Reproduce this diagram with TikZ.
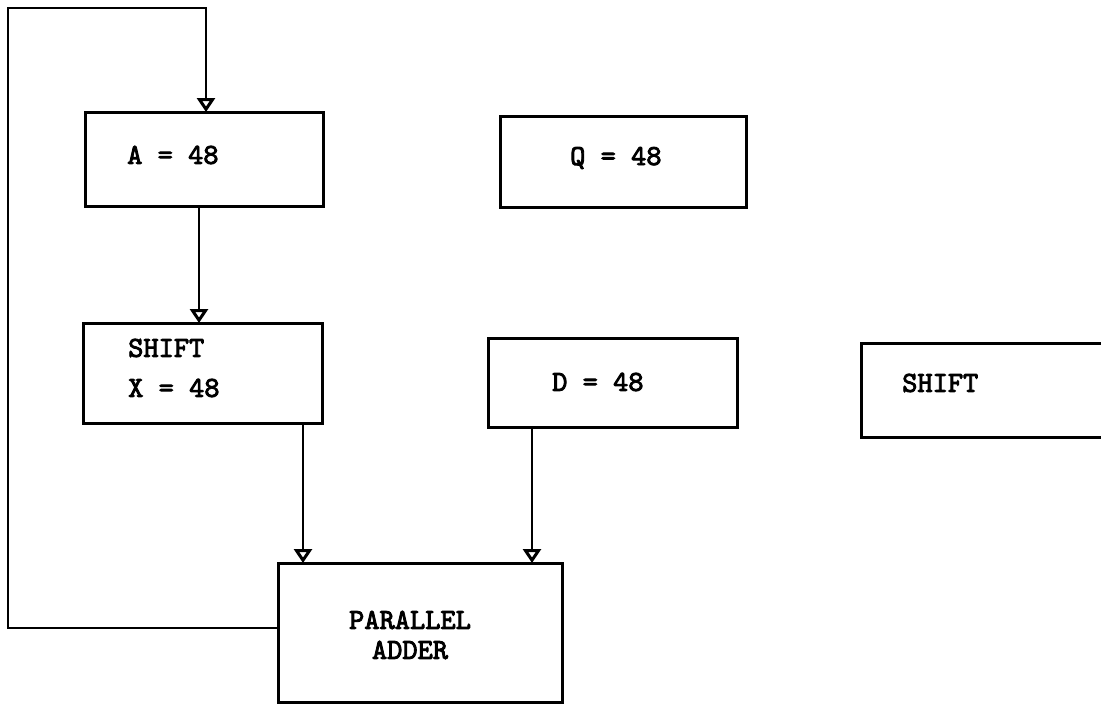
\documentclass[tikz,border=0pt]{standalone}
\usepackage{fontspec}
\newfontfamily\twfont{lmmono10-regular.otf}[FakeBold=3]
\usetikzlibrary{arrows.meta}
\begin{document}
\begin{tikzpicture}[x=1pt,y=-1pt,
  box/.style={draw, line width=3pt, inner sep=0pt, outer sep=0pt, rectangle},
  lbl/.style={font=\fontsize{29}{40}\selectfont\twfont, inner sep=0pt, anchor=west, align=left},
  conn/.style={line width=1.6pt},
  arr/.style={conn, -{Triangle[open, length=14pt, width=18pt, line width=3pt]}}]
\useasboundingbox (0,0) rectangle (1101,704);
% boxes
\node[box, minimum width=238pt, minimum height=94pt] (A) at (204,159) {};
\node[box, minimum width=246pt, minimum height=91pt] (Q) at (623,161.5) {};
\node[box, minimum width=239pt, minimum height=100pt] (SX) at (202.5,373) {};
\node[box, minimum width=249pt, minimum height=89pt] (D) at (612.5,382.5) {};
\node[box, minimum width=254pt, minimum height=94pt] (S2) at (988,390) {};
\node[box, minimum width=284pt, minimum height=139pt] (ADD) at (420,632.5) {};
% labels
\node[lbl] (At) at (127,155) {A = 48};
\node[lbl] (Qt) at (570,158) {Q = 48};
\node[lbl] (SXt) at (128,368) {SHIFT\\X = 48};
\node[lbl] (Dt) at (552,382) {D = 48};
\node[lbl] (S2t) at (902,383) {SHIFT};
\node[lbl, anchor=center, align=center, font=\fontsize{29}{30}\selectfont\twfont] (ADDt) at (410,635) {PARALLEL\\ADDER};
% connectors
\coordinate (l1) at (8,628);
\coordinate (l2) at (8,8);
\coordinate (l3) at (206,8);
\draw[arr, line width=2pt] (ADD.west |- l1) -- (l1) -- (l2) -- (l3) -- (l3 |- A.north);
\draw[arr] (199,0 |- A.south) -- (199,0 |- SX.north);
\draw[arr] (303,0 |- SX.south) -- (303,0 |- ADD.north);
\draw[arr] (532,0 |- D.south) -- (532,0 |- ADD.north);
\end{tikzpicture}
\end{document}
